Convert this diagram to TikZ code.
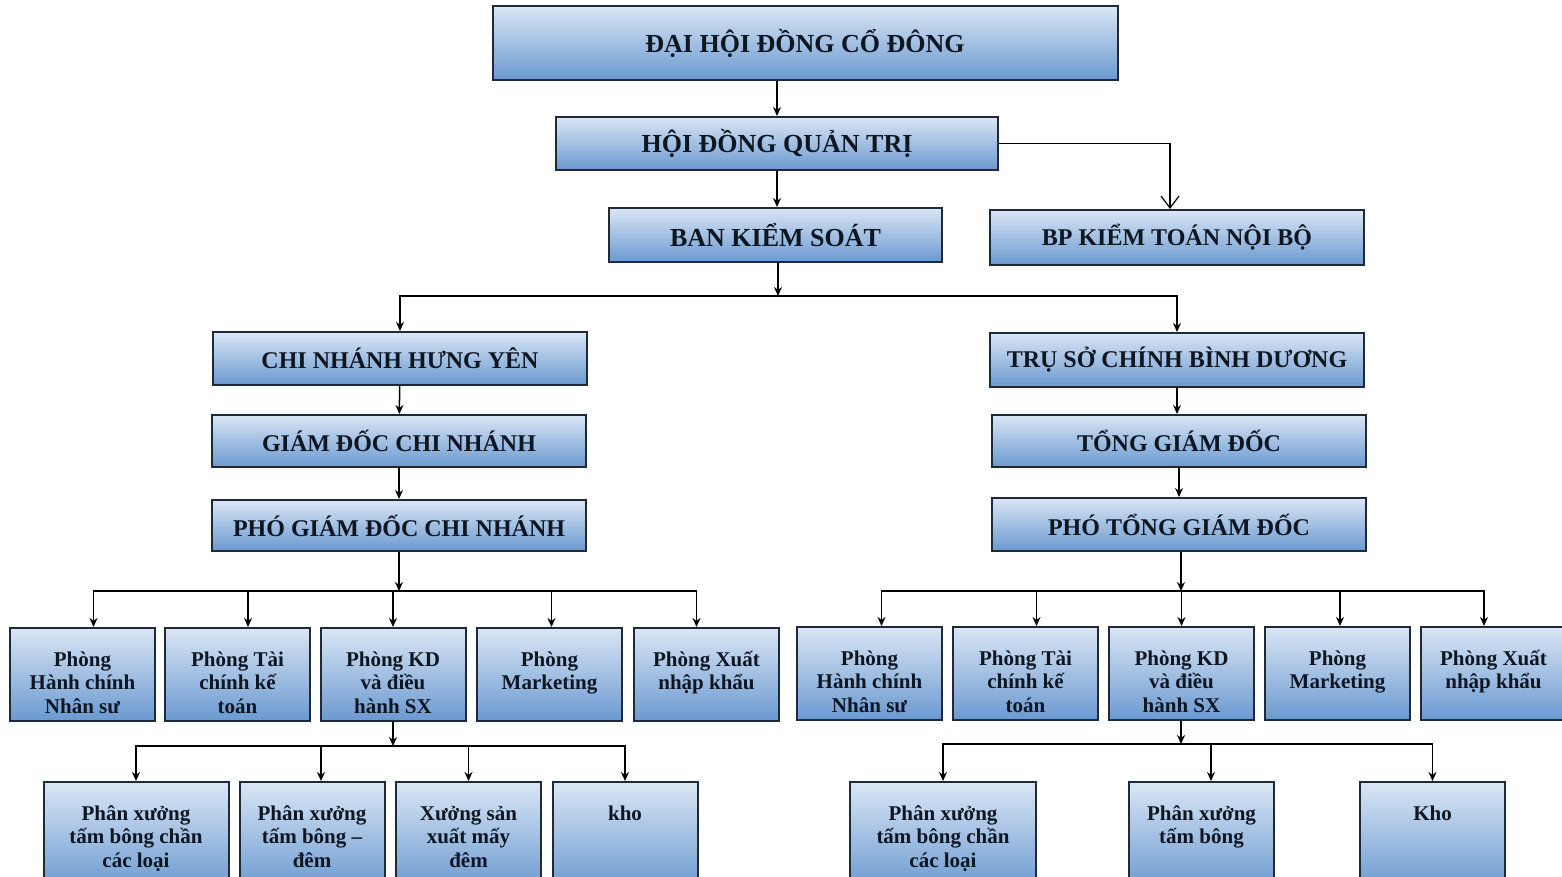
\documentclass[tikz,border=0pt]{standalone}
\usepackage{fontspec}
\setmainfont{Liberation Serif}
\usetikzlibrary{arrows.meta}

\definecolor{xanhnhat}{HTML}{DAE6F5}
\definecolor{xanhdam}{HTML}{6A99D0}
\definecolor{vien}{HTML}{1E2A38}
\definecolor{chu}{HTML}{0E1622}

\newcommand{\dong}[1]{\begin{tabular}[t]{@{}c@{}}#1\end{tabular}}

\tikzset{
	khoi/.style={draw=vien, line width=1pt, top color=xanhnhat, bottom color=xanhdam, text=chu, inner sep=0pt, font=\bfseries\fontsize{12}{14}\selectfont},
	khoilon/.style={khoi, font=\bfseries\fontsize{13}{15}\selectfont},
	phong/.style={khoi, minimum width=72.5pt, text height=19pt, text depth=27.5pt, anchor=base, font=\bfseries\fontsize{10.5}{11.75}\selectfont},
	xuong/.style={phong, text depth=35pt},
	mui/.style={-{Stealth[length=4.5pt,width=4pt]}, line width=0.75pt},
	muimo/.style={-{Straight Barb[length=6pt,width=9pt]}, line width=0.6pt}
}

\begin{document}
\begin{tikzpicture}[x=0.5pt, y=-0.5pt]
	\useasboundingbox (0,0) rectangle (1562,877);
	\clip (0,0) rectangle (1562,877);
	% cấp trên
	\node[khoilon, minimum width=312.5pt, minimum height=37pt] (dhcd) at (805,43) {ĐẠI HỘI ĐỒNG CỔ ĐÔNG};
	\node[khoilon, minimum width=221pt, minimum height=26.5pt] (hdqt) at (777,143.5) {HỘI ĐỒNG QUẢN TRỊ};
	\node[khoilon, minimum width=166.5pt, minimum height=27pt] (bks) at (775.5,235) {BAN KIỂM SOÁT};
	\node[khoi, minimum width=187pt, minimum height=27.5pt] (kt) at (1177,237.5) {BP KIỂM TOÁN NỘI BỘ};
	% chi nhánh
	\node[khoi, minimum width=187pt, minimum height=26.5pt] (cn) at (400,358.5) {CHI NHÁNH HƯNG YÊN};
	\node[khoi, minimum width=187pt, minimum height=26pt] (gdcn) at (399,441) {GIÁM ĐỐC CHI NHÁNH};
	\node[khoi, minimum width=187pt, minimum height=25.5pt] (pgdcn) at (399,525.5) {PHÓ GIÁM ĐỐC CHI NHÁNH};
	% trụ sở
	\node[khoi, minimum width=187pt, minimum height=27pt] (ts) at (1177,360) {TRỤ SỞ CHÍNH BÌNH DƯƠNG};
	\node[khoi, minimum width=187pt, minimum height=26pt] (tgd) at (1179,441) {TỔNG GIÁM ĐỐC};
	\node[khoi, minimum width=187pt, minimum height=26.5pt] (ptgd) at (1179,524.5) {PHÓ TỔNG GIÁM ĐỐC};
	% phòng ban chi nhánh
	\node[phong] (ta1) at (82.5,666) {\dong{Phòng\\Hành chính\\Nhân sư}};
	\node[phong] (ta2) at (237.5,666) {\dong{Phòng Tài\\chính kế\\toán}};
	\node[phong] (ta3) at (393,666) {\dong{Phòng KD\\và điều\\hành SX}};
	\node[phong] (ta4) at (549.5,666) {\dong{Phòng\\Marketing}};
	\node[phong] (ta5) at (706.5,666) {\dong{Phòng Xuất\\nhập khẩu}};
	% phòng ban trụ sở
	\node[phong] (tb1) at (869.5,665) {\dong{Phòng\\Hành chính\\Nhân sư}};
	\node[phong] (tb2) at (1025.5,665) {\dong{Phòng Tài\\chính kế\\toán}};
	\node[phong] (tb3) at (1181.5,665) {\dong{Phòng KD\\và điều\\hành SX}};
	\node[phong] (tb4) at (1337.5,665) {\dong{Phòng\\Marketing}};
	\node[phong] (tb5) at (1493.5,665) {\dong{Phòng Xuất\\nhập khẩu}};
	% xưởng
	\node[xuong, minimum width=92.5pt] (xa1) at (136,820) {\dong{Phân xưởng\\tấm bông chần\\các loại}};
	\node[xuong] (xa2) at (312,820) {\dong{Phân xưởng\\tấm bông --\\đêm}};
	\node[xuong] (xa3) at (468.5,820) {\dong{Xưởng sản\\xuất mấy\\đêm}};
	\node[xuong] (xa4) at (625,820) {kho};
	\node[xuong, minimum width=93pt] (xb1) at (943,820) {\dong{Phân xưởng\\tấm bông chần\\các loại}};
	\node[xuong] (xb2) at (1201.5,820) {\dong{Phân xưởng\\tấm bông}};
	\node[xuong] (xb3) at (1432.5,820) {Kho};
	% điểm rẽ nhánh
	\coordinate (r1) at (778,296);
	\coordinate (r2) at (399,591);
	\coordinate (r3) at (393,746);
	\coordinate (r4) at (1181,591);
	\coordinate (r5) at (1181,744);
	% mũi tên
	\draw[mui] (dhcd.south -| hdqt.north) -- (hdqt.north);
	\draw[mui] (hdqt.south) -- (hdqt.south |- bks.north);
	\draw[muimo] (hdqt.east) -| ([xshift=-3.5pt]kt.north);
	\draw[mui] (bks.south -| r1) -- (r1);
	\draw[mui] (r1) -| (cn.north);
	\draw[mui] (r1) -| (ts.north);
	\draw[mui] (cn) -- (gdcn);
	\draw[mui] (gdcn) -- (pgdcn);
	\draw[mui] (ts.south) -- (ts.south |- tgd.north);
	\draw[mui] (tgd) -- (ptgd);
	\draw[mui] (pgdcn.south) -- (r2);
	\foreach \p/\d in {ta1/5.5,ta2/5.25,ta3/0,ta4/1,ta5/-5}
		\draw[mui] (r2) -| ([xshift=\d pt]\p.north);
	\draw[mui] (ptgd.south -| r4) -- (r4);
	\foreach \p/\d in {tb1/6,tb2/5.5,tb3/0,tb4/1.25,tb5/-4.75}
		\draw[mui] (r4) -| ([xshift=\d pt]\p.north);
	\draw[mui] (ta3.south) -- (r3);
	\foreach \p/\d in {xa1/0,xa2/4.5,xa3/0,xa4/0}
		\draw[mui] (r3) -| ([xshift=\d pt]\p.north);
	\draw[mui] (tb3.south -| r5) -- (r5);
	\foreach \p/\d in {xb1/0,xb2/4.75,xb3/0}
		\draw[mui] (r5) -| ([xshift=\d pt]\p.north);
\end{tikzpicture}
\end{document}
